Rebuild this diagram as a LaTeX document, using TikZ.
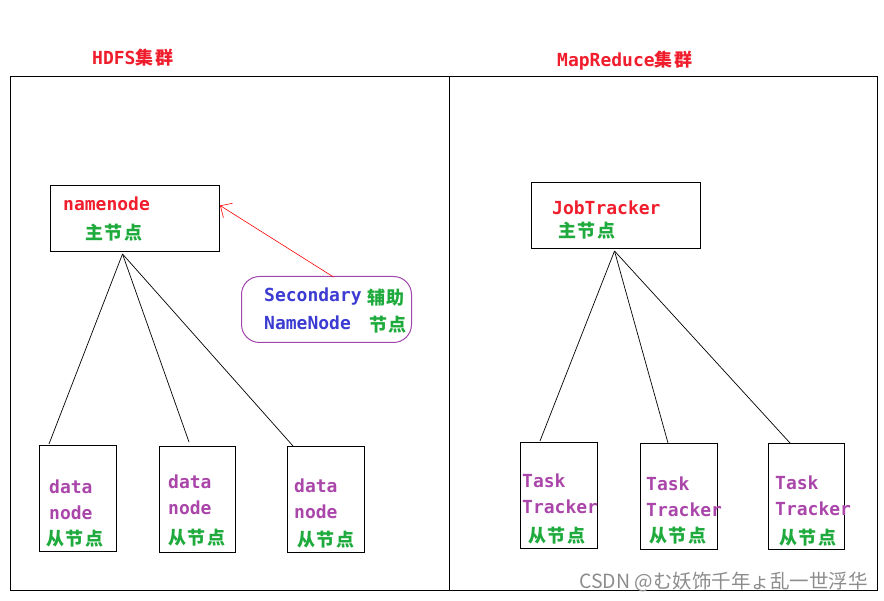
\documentclass[tikz,border=0pt]{standalone}
\usepackage{fontspec}
\usepackage{tikz}
\usetikzlibrary{calc, arrows.meta}
\setmonofont{DejaVu Sans Mono}
\newfontfamily\cjk[LetterSpace=10]{Noto Sans CJK SC}
\newfontfamily\wmfont{Noto Sans CJK SC}

\definecolor{titlered}{RGB}{240,30,45}
\definecolor{nodegreen}{RGB}{30,170,60}
\definecolor{slavepurple}{RGB}{170,70,170}
\definecolor{secblue}{RGB}{60,60,210}
\definecolor{roundpurple}{RGB}{160,70,170}

\begin{document}
\begin{tikzpicture} [
    x=1pt, y=-1pt,
    box/.style = {draw, line width=1pt, anchor=north west, inner sep=0pt},
    en/.style = {anchor=west, inner sep=0pt, font=\fontsize{18}{18}\ttfamily\bfseries},
    zh/.style = {anchor=west, inner sep=0pt, text=nodegreen, font=\fontsize{18}{18}\cjk\bfseries},
    tree/.style = {line width=0.7pt}
]
    \useasboundingbox (0,0) rectangle (884,601);

    % clusters
    \node [box, minimum width=439pt, minimum height=514pt] (hdfs) at (10,76) {};
    \node [box, minimum width=428pt, minimum height=514pt] (mr) at (449,76) {};
    \node [en, text=titlered] (hdfst) at (92,58) {HDFS\cjk 集群};
    \node [en, text=titlered] (mrt) at (557,61) {MapReduce\cjk 集群};

    % HDFS
    \node [box, minimum width=169pt, minimum height=66pt] (nn) at (50,185) {};
    \node [en, text=titlered] (nnt) at (63,204) {namenode};
    \node [zh] (nnz) at (85,233) {主节点};

    \node [box, draw=roundpurple, rounded corners=18pt,
           minimum width=170pt, minimum height=66pt] (snn) at (241,276) {};
    \node [en, text=secblue] (snnt1) at (264,297) {Secondary};
    \node [en, text=secblue] (snnt2) at (264,323) {NameNode};
    \node [zh] (snnz1) at (367,298) {辅助};
    \node [zh] (snnz2) at (369,325) {节点};
    \draw [red, line width=0.6pt, -{Straight Barb[length=9pt, width=17pt]}]
        ($(snn.north)+(7,1)$) to ($(nn.east)+(0,-13)$);

    \node [box, minimum width=77pt, minimum height=106pt] (dn1) at (39,445) {};
    \node [box, minimum width=76pt, minimum height=106pt] (dn2) at (159,446) {};
    \node [box, minimum width=77pt, minimum height=106pt] (dn3) at (287,446) {};
    \node [en, text=slavepurple] (dn1a) at (49,487) {data};
    \node [en, text=slavepurple] (dn1b) at (49,513) {node};
    \node [zh] (dn1z) at (46,539) {从节点};
    \node [en, text=slavepurple] (dn2a) at (168,482) {data};
    \node [en, text=slavepurple] (dn2b) at (168,508) {node};
    \node [zh] (dn2z) at (168,538) {从节点};
    \node [en, text=slavepurple] (dn3a) at (294,486) {data};
    \node [en, text=slavepurple] (dn3b) at (294,512) {node};
    \node [zh] (dn3z) at (297,540) {从节点};

    \coordinate (nnroot) at ($(nn.south)+(-12.5,2)$);
    \draw [tree] (nnroot) -- ($(dn1.north west)+(10,-1)$);
    \draw [tree] (nnroot) -- ($(dn2.north west)+(30,-4)$);
    \draw [tree] (nnroot) -- ($(dn3.north west)+(6,0)$);

    % MapReduce
    \node [box, minimum width=169pt, minimum height=66pt] (jt) at (531,182) {};
    \node [en, text=titlered] (jtt) at (552,208) {JobTracker};
    \node [zh] (jtz) at (558,231) {主节点};

    \node [box, minimum width=77pt, minimum height=106pt] (tt1) at (520,442) {};
    \node [box, minimum width=77pt, minimum height=106pt] (tt2) at (640,443) {};
    \node [box, minimum width=76pt, minimum height=106pt] (tt3) at (768,443) {};
    \node [en, text=slavepurple] (tt1a) at (522,481) {Task};
    \node [en, text=slavepurple] (tt1b) at (522,507) {Tracker};
    \node [zh] (tt1z) at (528,536) {从节点};
    \node [en, text=slavepurple] (tt2a) at (646,484) {Task};
    \node [en, text=slavepurple] (tt2b) at (646,510) {Tracker};
    \node [zh] (tt2z) at (649,536) {从节点};
    \node [en, text=slavepurple] (tt3a) at (775,483) {Task};
    \node [en, text=slavepurple] (tt3b) at (775,509) {Tracker};
    \node [zh] (tt3z) at (779,538) {从节点};

    \coordinate (jtroot) at ($(jt.south)+(-1.5,2)$);
    \draw [tree] (jtroot) -- ($(tt1.north west)+(20,-1)$);
    \draw [tree] (jtroot) -- ($(tt2.north west)+(28,0)$);
    \draw [tree] (jtroot) -- ($(tt3.north west)+(22,0)$);

    \node [anchor=east, inner sep=0pt, text=black!45, font=\fontsize{19.5}{19.5}\wmfont]
        (wm) at (868,582) {CSDN @む妖饰千年ょ乱一世浮华};
\end{tikzpicture}
\end{document}
